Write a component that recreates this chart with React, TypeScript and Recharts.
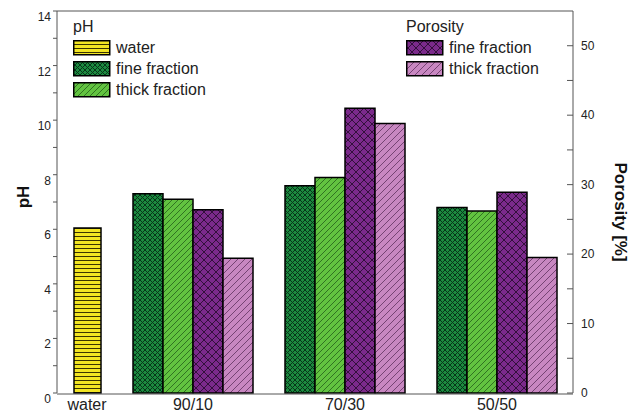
import { Bar, BarChart, Legend, XAxis, YAxis } from "recharts";

const categories = ["water", "90/10", "70/30", "50/50"];
const waterPH = [6.05, null, null, null];
const finePH = [null, 7.3, 7.6, 6.8];
const thickPH = [null, 7.1, 7.9, 6.67];
const finePorosity = [null, 26.4, 41.0, 28.9];
const thickPorosity = [null, 19.4, 38.8, 19.5];

const phTicks = [0, 1, 2, 3, 4, 5, 6, 7, 8, 9, 10, 11, 12, 13, 14];
const porosityTicks = [0, 5, 10, 15, 20, 25, 30, 35, 40, 45, 50];
const waterTicks = ["water"];
const mixtureTicks = ["90/10", "70/30", "50/50"];

const phKey = [
  { label: "water", fill: "url(#waterHatch)" },
  { label: "fine fraction", fill: "url(#fineGreenHatch)" },
  { label: "thick fraction", fill: "url(#thickGreenHatch)" },
];
const porosityKey = [
  { label: "fine fraction", fill: "url(#finePurpleHatch)" },
  { label: "thick fraction", fill: "url(#thickPinkHatch)" },
];

const data = categories.map((name, i) => ({
  name,
  water: waterPH[i],
  finePH: finePH[i],
  thickPH: thickPH[i],
  finePorosity: finePorosity[i],
  thickPorosity: thickPorosity[i],
}));

const font = "'Liberation Sans', Arial, sans-serif";
const axisColor = "#555";
const textColor = "#222";

// labels only on even pH values (set a little below the mark), odd ones keep just the tick
function PhTick(props: any) {
  const { x, y, payload } = props;
  if (payload.value % 2 !== 0) return <g />;
  return (
    <text x={x} y={y} dy={10} textAnchor="end" fontSize={12} fontFamily={font} fill={textColor}>
      {payload.value}
    </text>
  );
}

function PorosityTick(props: any) {
  const { x, y, payload } = props;
  if (payload.value % 10 !== 0) return <g />;
  return (
    <text x={x} y={y} dy={4} textAnchor="start" fontSize={12} fontFamily={font} fill={textColor}>
      {payload.value}
    </text>
  );
}

// rotated bold axis title, centred on the axis box
function AxisTitle(props: any) {
  const { viewBox, title, turn, shiftX = 0, shiftY = 0 } = props;
  const cx = viewBox.x + viewBox.width / 2 + shiftX;
  const cy = viewBox.y + viewBox.height / 2 + shiftY;
  return (
    <text
      x={cx}
      y={cy}
      transform={`rotate(${turn}, ${cx}, ${cy})`}
      textAnchor="middle"
      dominantBaseline="central"
      fontSize={17}
      fontWeight="bold"
      fontFamily={font}
      fill="#111"
    >
      {title}
    </text>
  );
}

function KeyBlock({ x, textX, title, items }: { x: number; textX: number; title: string; items: { label: string; fill: string }[] }) {
  return (
    <g fontFamily={font} fontSize={16} fill={textColor}>
      <text x={x} y={32}>{title}</text>
      {items.map((item, i) => (
        <g key={item.label}>
          <rect x={x + 0.75} y={40.75 + i * 21} width={36} height={14} fill={item.fill} stroke="#000" strokeWidth={1.5} />
          <text x={textX} y={53 + i * 21}>{item.label}</text>
        </g>
      ))}
    </g>
  );
}

function ChartKey() {
  return (
    <svg width={641} height={100} style={{ display: "block" }}>
      <KeyBlock x={73} textX={116} title="pH" items={phKey} />
      <KeyBlock x={406} textX={449} title="Porosity" items={porosityKey} />
    </svg>
  );
}

const tickFont = { fontSize: 16, fill: textColor, fontFamily: font };

export default function App() {
  return (
    <div style={{ position: "absolute", left: 0, top: 0 }}>
      <BarChart
        width={641}
        height={414}
        data={data}
        barGap={0}
        margin={{ top: 10, right: 0, bottom: 0, left: 0 }}
        style={{ fontFamily: font }}
      >
        <defs>
          <pattern id="waterHatch" width={4} height={4} patternUnits="userSpaceOnUse">
            <rect width={4} height={4} fill="#f2e523" />
            <line x1={0} y1={0.5} x2={4} y2={0.5} stroke="#3a3400" strokeWidth={1} />
          </pattern>
          <pattern id="fineGreenHatch" width={5} height={5} patternUnits="userSpaceOnUse">
            <rect width={5} height={5} fill="#1c8a3f" />
            <path d="M0,0 L5,5 M5,0 L0,5" stroke="#07361a" strokeWidth={1} />
          </pattern>
          <pattern id="thickGreenHatch" width={6} height={6} patternUnits="userSpaceOnUse">
            <rect width={6} height={6} fill="#62c340" />
            <path d="M-1,1 L1,-1 M0,6 L6,0 M5,7 L7,5" stroke="#2a6a1d" strokeWidth={0.9} />
          </pattern>
          <pattern id="finePurpleHatch" width={8} height={8} patternUnits="userSpaceOnUse">
            <rect width={8} height={8} fill="#7b2a8b" />
            <path d="M0,0 L8,8 M8,0 L0,8" stroke="#33103b" strokeWidth={1} />
          </pattern>
          <pattern id="thickPinkHatch" width={7} height={7} patternUnits="userSpaceOnUse">
            <rect width={7} height={7} fill="#c887c1" />
            <path d="M-1,1 L1,-1 M0,7 L7,0 M6,8 L8,6" stroke="#6c3b6a" strokeWidth={0.9} />
          </pattern>
        </defs>

        {/* water sits on its own narrow band left of the three mixtures */}
        <XAxis
          xAxisId={0}
          dataKey="name"
          ticks={waterTicks}
          interval={0}
          padding={{ left: 0, right: 276 }}
          height={1}
          axisLine={false}
          tickLine={false}
          tickMargin={0}
          tick={tickFont}
        />
        <XAxis
          xAxisId="mix"
          dataKey="name"
          ticks={mixtureTicks}
          interval={0}
          padding={{ left: -92, right: 0 }}
          height={20}
          axisLine={{ stroke: axisColor }}
          tickLine={false}
          tickMargin={-1}
          tick={tickFont}
        />
        <XAxis
          xAxisId="frame"
          orientation="top"
          dataKey="name"
          height={1}
          tick={false}
          tickLine={false}
          axisLine={{ stroke: axisColor }}
        />
        <YAxis
          yAxisId="ph"
          width={57}
          domain={[0, 14]}
          ticks={phTicks}
          interval={0}
          tickSize={4}
          tickMargin={2}
          tick={<PhTick />}
          axisLine={{ stroke: axisColor }}
          tickLine={{ stroke: axisColor }}
          label={<AxisTitle title="pH" turn={-90} shiftX={-5} shiftY={-5} />}
        />
        <YAxis
          yAxisId="por"
          orientation="right"
          width={68}
          domain={[0, 55]}
          ticks={porosityTicks}
          interval={0}
          tickSize={-6}
          tickMargin={14}
          tick={<PorosityTick />}
          axisLine={{ stroke: axisColor }}
          tickLine={{ stroke: axisColor }}
          label={<AxisTitle title="Porosity [%]" turn={90} shiftX={13} shiftY={10} />}
        />

        <Legend
          content={<ChartKey />}
          layout="vertical"
          align="center"
          verticalAlign="middle"
          wrapperStyle={{ left: 0, top: 0, width: 641, height: 100, pointerEvents: "none" }}
        />

        <Bar xAxisId={0} yAxisId="ph" dataKey="water" barSize={27} fill="url(#waterHatch)" stroke="#000" strokeWidth={1.5} isAnimationActive={false} />
        <Bar xAxisId="mix" yAxisId="ph" dataKey="finePH" barSize={30} fill="url(#fineGreenHatch)" stroke="#000" strokeWidth={1.5} isAnimationActive={false} />
        <Bar xAxisId="mix" yAxisId="ph" dataKey="thickPH" barSize={30} fill="url(#thickGreenHatch)" stroke="#000" strokeWidth={1.5} isAnimationActive={false} />
        <Bar xAxisId="mix" yAxisId="por" dataKey="finePorosity" barSize={30} fill="url(#finePurpleHatch)" stroke="#000" strokeWidth={1.5} isAnimationActive={false} />
        <Bar xAxisId="mix" yAxisId="por" dataKey="thickPorosity" barSize={30} fill="url(#thickPinkHatch)" stroke="#000" strokeWidth={1.5} isAnimationActive={false} />
      </BarChart>
    </div>
  );
}
